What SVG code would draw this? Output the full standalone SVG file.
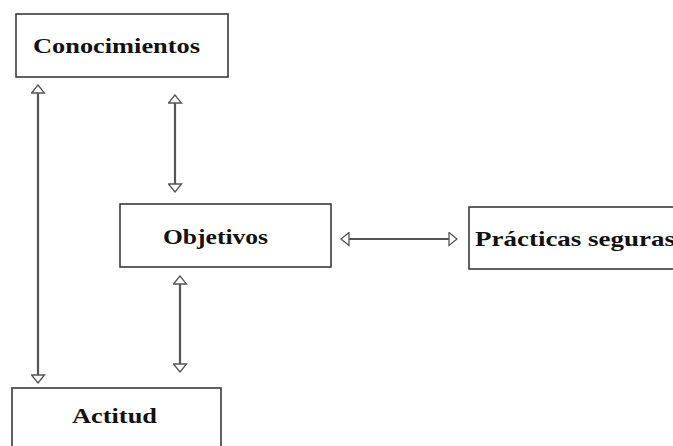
<svg xmlns="http://www.w3.org/2000/svg" width="673" height="446" viewBox="0 0 673 446">
  <defs>
    <style>
      .box { fill: #ffffff; stroke: #3a3a3a; stroke-width: 1.6; }
      .label { font-family: "Liberation Serif", "Times New Roman", serif; font-weight: bold; font-size: 22px; fill: #111111; }
      .link { stroke: #555555; stroke-width: 2.2; fill: none; marker-start: url(#open); marker-end: url(#open); }
    </style>
    <!-- hollow triangular arrowhead used at both ends of every link -->
    <marker id="open" viewBox="0 0 10 15" refX="9" refY="7.5" markerWidth="10" markerHeight="15" markerUnits="userSpaceOnUse" orient="auto-start-reverse">
      <path d="M1,1 L9,7.5 L1,14 Z" fill="#ffffff" stroke="#555555" stroke-width="1.3"/>
    </marker>
  </defs>
  <rect width="673" height="446" fill="#ffffff"/>

  <g id="connectors">
    <line class="link" x1="38" y1="85" x2="38" y2="383"/>
    <line class="link" x1="175" y1="95" x2="175" y2="192"/>
    <line class="link" x1="180" y1="276" x2="180" y2="372"/>
    <line class="link" x1="341" y1="239" x2="457" y2="239"/>
  </g>

  <g id="conocimientos">
    <rect class="box" x="16" y="14" width="212" height="63"/>
    <text class="label" x="33" y="53" textLength="167" lengthAdjust="spacingAndGlyphs">Conocimientos</text>
  </g>

  <g id="objetivos">
    <rect class="box" x="120" y="204" width="211" height="63"/>
    <text class="label" x="163" y="244" textLength="105" lengthAdjust="spacingAndGlyphs">Objetivos</text>
  </g>

  <g id="practicas">
    <rect class="box" x="469" y="207" width="220" height="62"/>
    <text class="label" x="475" y="246" textLength="200" lengthAdjust="spacingAndGlyphs">Prácticas seguras</text>
  </g>

  <g id="actitud">
    <rect class="box" x="12" y="388" width="209" height="70"/>
    <text class="label" x="72" y="423" textLength="85" lengthAdjust="spacingAndGlyphs">Actitud</text>
  </g>
</svg>
